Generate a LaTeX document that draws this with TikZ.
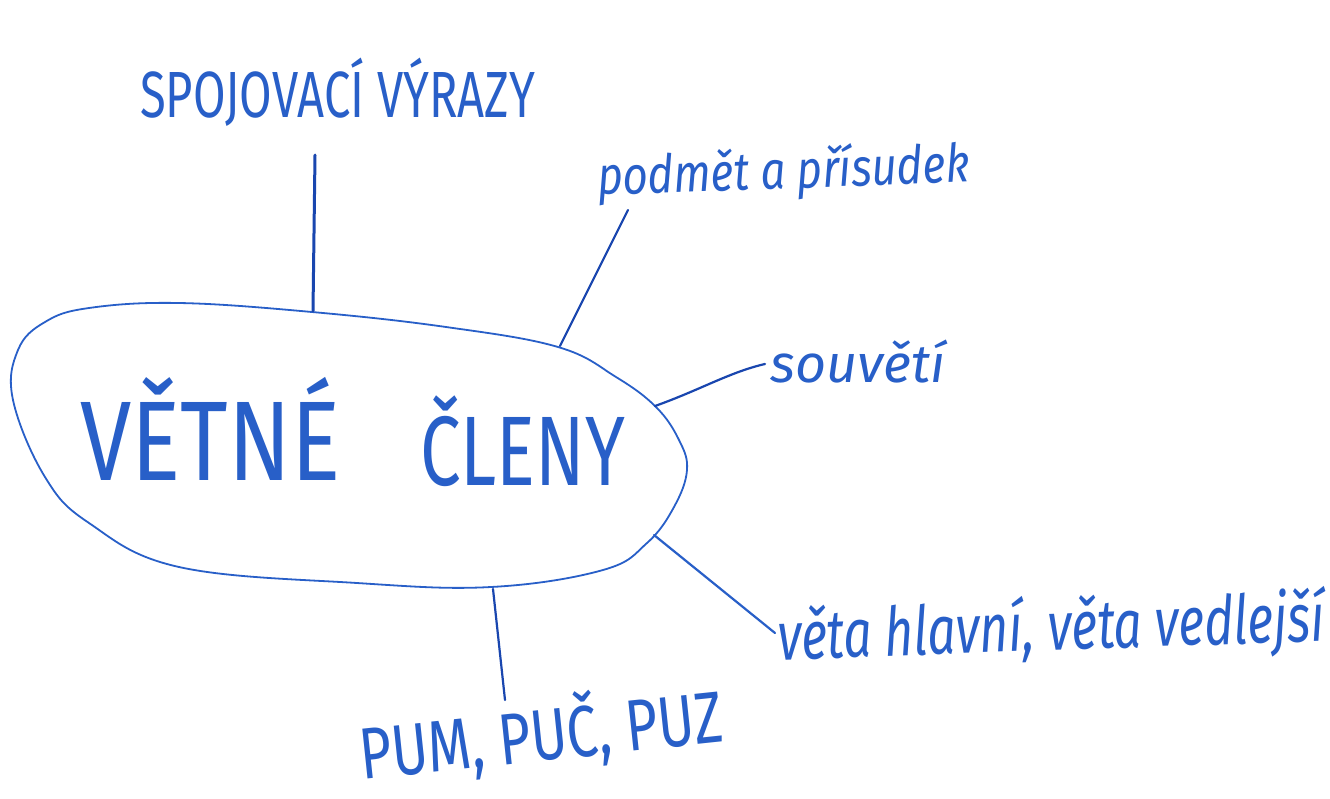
\documentclass[tikz,border=0pt]{standalone}
\usepackage{fontspec}
\newfontfamily\hand{Fira Sans}
\definecolor{pen}{RGB}{40,95,200}
\definecolor{pendark}{RGB}{25,70,175}
% width, cap-height target
\newcommand\capt[3]{\resizebox{#1pt}{#2pt}{\raisebox{0pt}[\fontcharht\font`H]{#3}}}
% width, x-height target
\newcommand\lowt[3]{\resizebox{#1pt}{#2pt}{\raisebox{0pt}[\fontcharht\font`x]{#3}}}
\tikzset{
  hw/.style={text=pen, inner sep=0pt, anchor=base west, font=\hand\fontsize{20}{24}\selectfont},
  hwi/.style={hw, font=\hand\itshape\fontsize{20}{24}\selectfont},
  penline/.style={draw=pen, line width=1.8pt, line cap=round, line join=round},
  link/.style={draw=pendark, line width=2.2pt, line cap=round}
}
\begin{document}
\begin{tikzpicture}[x=1pt,y=-1pt]
\useasboundingbox[fill=white] (0,0) rectangle (1330,798);

% central egg-shaped outline
\draw[penline] plot[smooth cycle, tension=0.65] coordinates {
  (18,350) (13,400) (45,477) (89,523) (179,567) (357,583) (491,587)
  (603,570) (647,543) (674,507) (687,470) (679,440) (656,407)
  (616,377) (558,347) (446,327) (312,312) (179,303) (89,308) (45,322)};

% attachment points on the outline
\coordinate (eTop) at (313,311);
\coordinate (ePod) at (560,346);
\coordinate (eSou) at (655,406);
\coordinate (eVet) at (654,535);
\coordinate (eBot) at (493,589);

% centre text
\node[hw] (vetne) at (80,480) {\capt{260}{78}{VĚTNÉ}};
\node[hw] (cleny) at (420,485) {\capt{205}{68}{ČLENY}};

% branch labels
\node[hw] (spoj) at (140,117) {\capt{395}{45}{SPOJOVACÍ VÝRAZY}};
\node[hwi, rotate=2] (pod) at (598,195) {\lowt{372}{28}{podmět a přísudek}};
\node[hwi] (sou) at (770,382) {\lowt{175}{28}{souvětí}};
\node[hwi, rotate=2] (veta) at (778,660) {\lowt{547}{36}{věta hlavní, věta vedlejší}};
\node[hw, rotate=6] (pum) at (362,780) {\capt{365}{50}{PUM, PUČ, PUZ}};

% free ends of connectors near the labels
\coordinate (cTop) at (315,155);
\coordinate (cPod) at (628,210);
\coordinate (cSou) at (765,364);
\coordinate (cVet) at (775,633);
\coordinate (cBot) at (505,700);

% connectors
\draw[link, line width=3pt] (eTop) -- (cTop);
\draw[link] (ePod) -- (cPod);
\draw[link] (eSou) .. controls (700,390) and (730,372) .. (cSou);
\draw[link, draw=pen] (eVet) -- (cVet);
\draw[link] (eBot) -- (cBot);
\end{tikzpicture}
\end{document}
